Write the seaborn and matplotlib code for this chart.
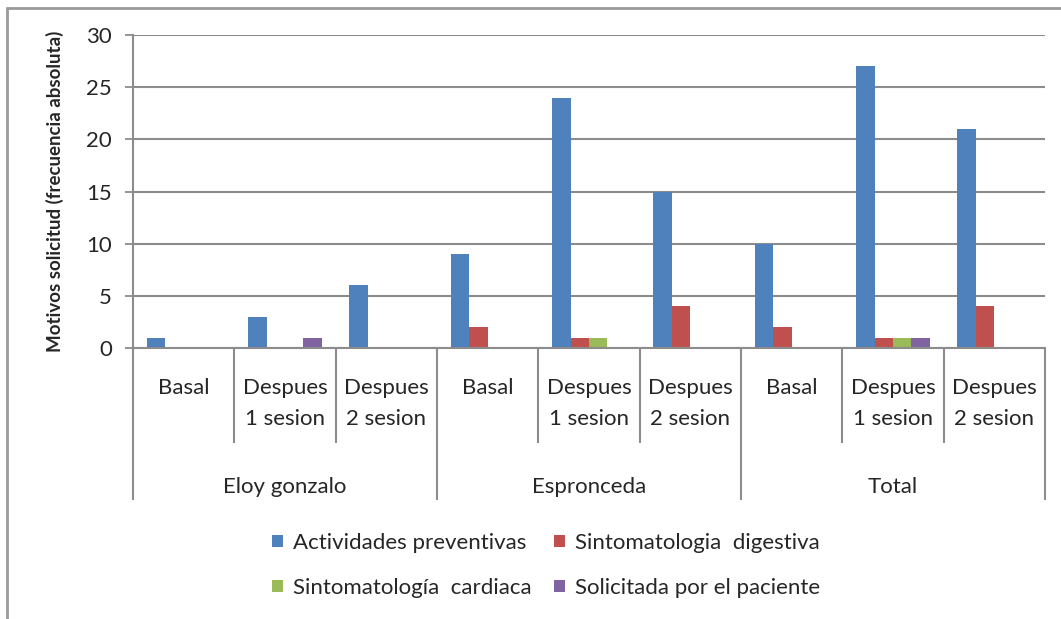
import matplotlib
matplotlib.use("Agg")
import matplotlib.pyplot as plt
from matplotlib.lines import Line2D
from matplotlib.patches import Patch
import seaborn as sns
import pandas as pd

# ---- data ----
groups = ["Eloy gonzalo", "Espronceda", "Total"]
moments = ["Basal", "Despues\n1 sesion", "Despues\n2 sesion"]
series = ["Actividades preventivas", "Sintomatologia  digestiva",
          "Sintomatología  cardiaca", "Solicitada por el paciente"]
actividades = [1, 3, 6, 9, 24, 15, 10, 27, 21]
digestiva = [0, 0, 0, 2, 1, 4, 2, 1, 4]
cardiaca = [0, 0, 0, 0, 1, 0, 0, 1, 0]
solicitada = [0, 1, 0, 0, 0, 0, 0, 1, 0]
colors = ["#4F81BD", "#C0504D", "#9BBB59", "#8064A2"]
yticks = [0, 5, 10, 15, 20, 25, 30]

cats = [f"{g}|{m}" for g in groups for m in moments]
rows = []
for s, vals in zip(series, [actividades, digestiva, cardiaca, solicitada]):
    for c, v in zip(cats, vals):
        rows.append({"cat": c, "serie": s, "value": v})
df = pd.DataFrame(rows)

sns.set_style("white")
plt.rcParams["font.family"] = ["Lato", "DejaVu Sans"]
txt_color = "#262626"
line_color = "#8C8C8C"
fs = 16

fig = plt.figure(figsize=(10.61, 6.19), dpi=100)
ax = fig.add_axes([133 / 1061, 1 - 348 / 619, (1045 - 133) / 1061, (348 - 35) / 619])

sns.barplot(data=df, x="cat", y="value", hue="serie", order=cats, hue_order=series,
            palette=colors, saturation=1, width=0.727, gap=0, legend=False, ax=ax,
            linewidth=0, edgecolor="none")

ax.set_xlim(-0.5, len(cats) - 0.5)
ax.set_ylim(0, 30)
ax.set_yticks(yticks)
ax.set_yticklabels([str(t) for t in yticks], fontsize=fs, color=txt_color)
ax.tick_params(axis="y", direction="out", length=6, width=1.3, color=line_color, pad=9, left=True)
ax.set_xticks([])
ax.set_xlabel("")
ax.set_ylabel("Motivos solicitud (frecuencia absoluta)", fontsize=13.5, fontweight="bold",
              color=txt_color, labelpad=16)
ax.yaxis.grid(True, color=line_color, linewidth=1.5)
ax.set_axisbelow(True)
for side in ["top", "right"]:
    ax.spines[side].set_visible(False)
for side in ["left", "bottom"]:
    ax.spines[side].set_color(line_color)
    ax.spines[side].set_linewidth(1.5)

# multi-level category axis
trans = ax.get_xaxis_transform()
for i in range(len(cats) + 1):
    xb = i - 0.5
    y_end = -0.4856 if i % 3 == 0 else -0.3035
    ax.plot([xb, xb], [0, y_end], transform=trans, color=line_color, lw=1.5,
            clip_on=False, solid_capstyle="butt")
for i, c in enumerate(cats):
    m = c.split("|")[1]
    ax.text(i, -0.097, m, transform=trans, ha="center", va="top", fontsize=fs,
            color=txt_color, linespacing=1.68)
for j, g in enumerate(groups):
    ax.text(3 * j + 1, -0.444, g, transform=trans, ha="center", va="center",
            fontsize=fs, color=txt_color)

# legend
handles = [Patch(facecolor=c, edgecolor="none") for c in colors]
order_idx = [0, 2, 1, 3]
fig.legend([handles[k] for k in order_idx], [series[k] for k in order_idx],
           ncol=2, loc="upper left", bbox_to_anchor=(252 / 1061, 1 - 513 / 619),
           frameon=False, fontsize=fs, handlelength=0.5, handleheight=0.5,
           handletextpad=0.45, columnspacing=1.0, labelspacing=1.12, labelcolor=txt_color)

# chart-area border (top and left visible)
fig.add_artist(Line2D([7 / 1061, 1], [1 - 8 / 619, 1 - 8 / 619], transform=fig.transFigure,
                      color="#9A9A9A", lw=2))
fig.add_artist(Line2D([7 / 1061, 7 / 1061], [0, 1 - 8 / 619], transform=fig.transFigure,
                      color="#9A9A9A", lw=2))

fig.savefig("out.png", dpi=100, facecolor="white")
